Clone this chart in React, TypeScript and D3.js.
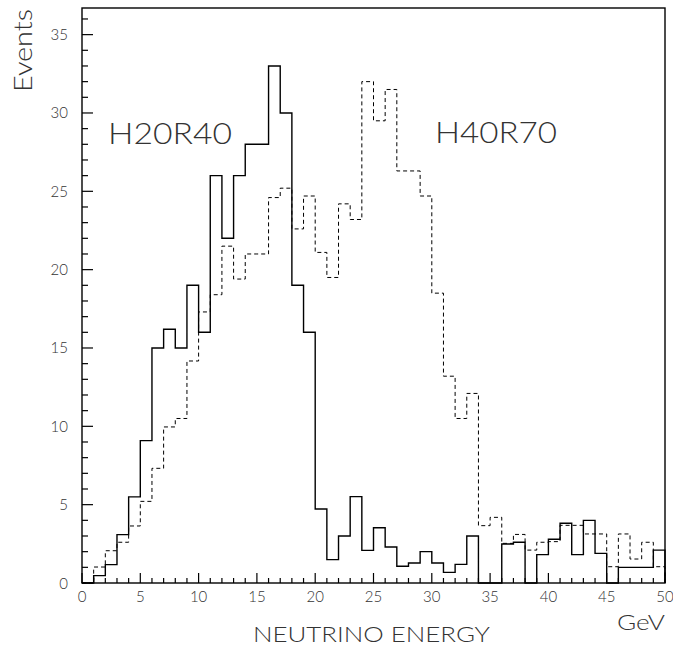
import React from "react";
import * as d3 from "d3";

// Bin lower edges 0..49 GeV (1 GeV bins)
const binEdges: number[] = d3.range(0, 51, 1);

// H20R40 (solid)
const h20r40: number[] = [
  0, 0.47, 1.17, 3.09, 5.5, 9.09, 15.0, 16.2, 15.0, 19.0,
  16.0, 26.0, 22.0, 26.0, 28.0, 28.0, 33.0, 30.0, 19.0, 16.0,
  4.72, 1.49, 3.0, 5.51, 2.08, 3.53, 2.3, 1.07, 1.28, 2.0,
  1.28, 0.68, 1.19, 3.0, 0, 0, 2.49, 2.6, 0, 1.81,
  2.79, 3.81, 1.81, 4.0, 1.89, 0, 1.0, 1.0, 1.0, 2.1,
];

// H40R70 (dashed)
const h40r70: number[] = [
  0, 1.02, 2.06, 2.6, 3.64, 5.21, 7.32, 9.96, 10.5, 14.17,
  17.3, 18.4, 21.5, 19.4, 21.0, 21.0, 24.6, 25.2, 22.6, 24.7,
  21.1, 19.5, 24.2, 23.2, 32.0, 29.5, 31.5, 26.3, 26.3, 24.7,
  18.5, 13.2, 10.5, 12.1, 3.66, 4.19, 2.53, 3.1, 2.1, 2.6,
  2.64, 3.68, 3.68, 3.13, 3.13, 1.04, 3.13, 1.53, 2.6, 1.04,
];

const xTickLabels: number[] = [0, 5, 10, 15, 20, 25, 30, 35, 40, 45, 50];
const yTickLabels: number[] = [0, 5, 10, 15, 20, 25, 30, 35];
const xMinorTicks: number[] = d3.range(0, 51, 1);
const yMinorTicks: number[] = d3.range(0, 37, 1);

const W = 673;
const H = 647;
const left = 82;
const right = 665;
const top = 8;
const bottom = 583;

const FONT = "Lato, 'Liberation Sans', Arial, sans-serif";
const TEXT_COLOR = "#333";

export default function App() {
  const x = d3.scaleLinear().domain([0, 50]).range([left, right]);
  const y = d3.scaleLinear().domain([0, 36.7]).range([bottom, top]);

  const stepLine = d3
    .line<[number, number]>()
    .x((d) => x(d[0]))
    .y((d) => y(d[1]))
    .curve(d3.curveStepAfter);

  const pts = (vals: number[]): [number, number][] => {
    const p: [number, number][] = [[0, 0]];
    vals.forEach((v, i) => p.push([binEdges[i], v]));
    p.push([50, vals[vals.length - 1]]);
    p.push([50, 0]);
    return p;
  };

  const textProps = {
    fontFamily: FONT,
    fontWeight: 300,
    fill: TEXT_COLOR,
  };

  return (
    <svg
      width={W}
      height={H}
      style={{ position: "absolute", left: 0, top: 0, background: "#fff" }}
    >
      <rect x={0} y={0} width={W} height={H} fill="#fff" />
      {/* histograms */}
      <path
        d={stepLine(pts(h40r70)) || ""}
        fill="none"
        stroke="#000"
        strokeWidth={1}
        strokeDasharray="4,3"
      />
      <path
        d={stepLine(pts(h20r40)) || ""}
        fill="none"
        stroke="#000"
        strokeWidth={1.4}
      />
      {/* frame */}
      <rect
        x={left}
        y={top}
        width={right - left}
        height={bottom - top}
        fill="none"
        stroke="#000"
        strokeWidth={1.4}
      />
      {/* x ticks */}
      {xMinorTicks.map((t) => (
        <line
          key={"xm" + t}
          x1={x(t)}
          x2={x(t)}
          y1={bottom}
          y2={bottom - (t % 5 === 0 ? 10 : 5)}
          stroke="#000"
          strokeWidth={1.2}
        />
      ))}
      {/* y ticks */}
      {yMinorTicks.map((t) => (
        <line
          key={"ym" + t}
          x1={left}
          x2={left + (t % 5 === 0 ? 11 : 6)}
          y1={y(t)}
          y2={y(t)}
          stroke="#000"
          strokeWidth={1.2}
        />
      ))}
      {/* tick labels */}
      {xTickLabels.map((t) => (
        <text
          key={"xl" + t}
          x={x(t)}
          y={602}
          textAnchor="middle"
          fontSize={15}
          {...textProps}
        >
          {t}
        </text>
      ))}
      {yTickLabels.map((t) => (
        <text
          key={"yl" + t}
          x={68}
          y={y(t) + 5.5}
          textAnchor="end"
          fontSize={15}
          {...textProps}
        >
          {t}
        </text>
      ))}
      {/* axis titles */}
      <text
        x={253}
        y={642}
        fontSize={22}
        textLength={237}
        lengthAdjust="spacingAndGlyphs"
        {...textProps}
      >
        NEUTRINO ENERGY
      </text>
      <text
        x={617}
        y={630}
        fontSize={21}
        textLength={48}
        lengthAdjust="spacingAndGlyphs"
        {...textProps}
      >
        GeV
      </text>
      <text
        transform="translate(31.5,92) rotate(-90)"
        fontSize={25}
        textLength={83}
        lengthAdjust="spacingAndGlyphs"
        {...textProps}
      >
        Events
      </text>
      {/* labels */}
      <text
        x={108}
        y={143.5}
        fontSize={29}
        textLength={124}
        lengthAdjust="spacingAndGlyphs"
        {...textProps}
      >
        H20R40
      </text>
      <text
        x={435}
        y={143}
        fontSize={29}
        textLength={122}
        lengthAdjust="spacingAndGlyphs"
        {...textProps}
      >
        H40R70
      </text>
    </svg>
  );
}
